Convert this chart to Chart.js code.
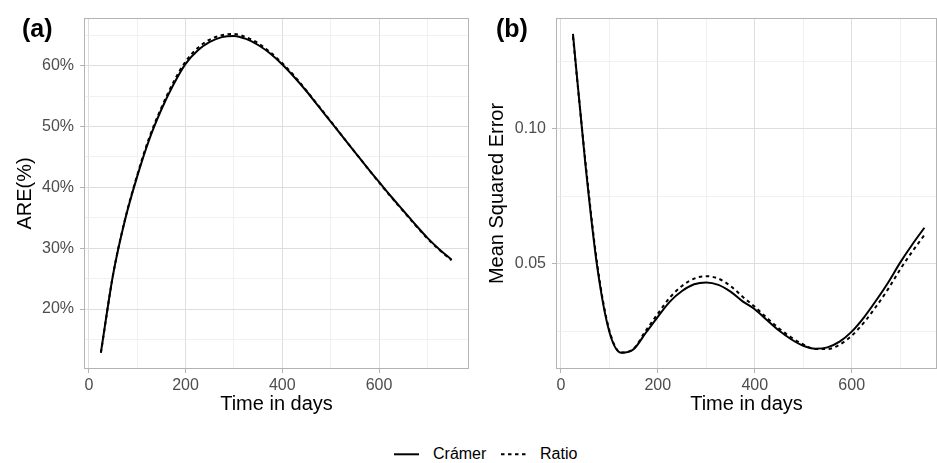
<!DOCTYPE html>
<html>
<head>
<meta charset="utf-8">
<script src="https://cdn.jsdelivr.net/npm/chart.js@4.4.1/dist/chart.umd.min.js"></script>
<style>
  html, body { margin: 0; padding: 0; background: #fff; }
  #fig { position: relative; width: 937px; height: 463px; overflow: hidden; font-family: "Liberation Sans", Arial, sans-serif; }
  #fig canvas { position: absolute; top: 0; }
  .tag { position: absolute; top: 16px; font-size: 25px; line-height: 25px; font-weight: bold; color: #000; }
  .key { position: absolute; top: 444px; }
  .lab { position: absolute; top: 446px; font-size: 16px; line-height: 16px; color: #000; }
</style>
</head>
<body>
<div id="fig">
  <canvas id="cA" width="470" height="420" style="left:0"></canvas>
  <canvas id="cB" width="467" height="420" style="left:470px"></canvas>
  <div class="tag" style="left:22px">(a)</div>
  <div class="tag" style="left:496px">(b)</div>
  <svg class="key" style="left:394px" width="25" height="20"><line x1="0" y1="10.3" x2="25" y2="10.3" stroke="#000" stroke-width="2"/></svg>
  <div class="lab" style="left:433px">Crámer</div>
  <svg class="key" style="left:501px" width="26" height="20"><line x1="0" y1="10.3" x2="26" y2="10.3" stroke="#000" stroke-width="2" stroke-dasharray="3.5 3.5"/></svg>
  <div class="lab" style="left:540px">Ratio</div>
</div>
<script>
// time points (days)
var days = [25, 50, 75, 100, 125, 150, 175, 200, 225, 250, 275, 300, 325, 350, 375,
            400, 425, 450, 475, 500, 525, 550, 575, 600, 625, 650, 675, 700, 725, 750];

// panel (a): ARE in percent
var areCramer = [12.9, 25.6, 34.7, 41.8, 47.9, 52.8, 56.9, 60.3, 62.5, 63.9, 64.7, 64.9, 64.4, 63.4, 62.0,
                 60.2, 58.1, 55.8, 53.3, 50.8, 48.3, 45.8, 43.3, 40.9, 38.5, 36.2, 33.9, 31.7, 29.8, 28.1];
var areRatio  = [12.8, 25.6, 34.8, 42.0, 48.2, 53.1, 57.3, 60.7, 62.9, 64.3, 65.0, 65.2, 64.7, 63.7, 62.2,
                 60.4, 58.3, 55.9, 53.4, 50.9, 48.3, 45.8, 43.3, 40.8, 38.4, 36.1, 33.8, 31.6, 29.7, 28.0];

// panel (b): mean squared error
var mseCramer = [0.135, 0.088, 0.049, 0.025, 0.0172, 0.0185, 0.0245, 0.0305, 0.0361, 0.0400, 0.0425, 0.0432, 0.0423, 0.0398, 0.0362,
                 0.0333, 0.0293, 0.0254, 0.0222, 0.0198, 0.0187, 0.0192, 0.0213, 0.0250, 0.0302, 0.0364, 0.0431, 0.0505, 0.0572, 0.0634];
var mseRatio  = [0.134, 0.089, 0.050, 0.0255, 0.0173, 0.0187, 0.0253, 0.0316, 0.0376, 0.0419, 0.0446, 0.0455, 0.0446, 0.0419, 0.0379,
                 0.0342, 0.0301, 0.0262, 0.0229, 0.0203, 0.0186, 0.0186, 0.0202, 0.0235, 0.0283, 0.0342, 0.0407, 0.0480, 0.0546, 0.0607];

// axis ticks
var xMajor = [0, 200, 400, 600];
var xMinor = [100, 300, 500, 700];
var areMajor = [20, 30, 40, 50, 60];
var areMinor = [15, 25, 35, 45, 55, 65];
var mseMajor = [0.05, 0.10];
var mseMinor = [0.025, 0.075, 0.125];

Chart.defaults.font.family = '"Liberation Sans", Arial, sans-serif';

function pts(ys) {
  return days.map(function (d, i) { return { x: d, y: ys[i] }; });
}

function tickList(major, minor) {
  var t = major.map(function (v) { return { value: v, isMajor: true }; })
    .concat(minor.map(function (v) { return { value: v, isMajor: false }; }));
  t.sort(function (a, b) { return a.value - b.value; });
  return t;
}

function isMaj(c) { return c.tick && c.tick.isMajor; }

var gridOpts = {
  color: function (c) { return isMaj(c) ? '#dedede' : '#ebebeb'; },
  lineWidth: function (c) { return isMaj(c) ? 1 : 0.7; },
  tickColor: function (c) { return isMaj(c) ? '#b3b3b3' : 'rgba(0,0,0,0)'; },
  tickLength: 4,
  tickWidth: 1
};

// grey frame around the panel, like ggplot's theme_light border
var framePlugin = {
  id: 'frame',
  afterDatasetsDraw: function (c) {
    var a = c.chartArea, ctx = c.ctx;
    ctx.save();
    ctx.strokeStyle = '#b3b3b3';
    ctx.lineWidth = 1;
    ctx.strokeRect(a.left + 0.5, a.top + 0.5, a.right - a.left - 1, a.bottom - a.top - 1);
    ctx.restore();
  }
};

function panel(id, cfg) {
  var line = { borderColor: '#000', borderWidth: 2, pointRadius: 0, cubicInterpolationMode: 'monotone' };
  return new Chart(document.getElementById(id), {
    type: 'line',
    data: {
      datasets: [
        Object.assign({ label: 'Crámer', data: pts(cfg.solid), order: 2 }, line),
        Object.assign({ label: 'Ratio', data: pts(cfg.dashed), borderDash: [3.5, 3.5], order: 1 }, line)
      ]
    },
    plugins: [framePlugin],
    options: {
      responsive: false, maintainAspectRatio: false, animation: false,
      layout: { padding: { left: cfg.padLeft, top: 18, right: cfg.padRight, bottom: 0 } },
      plugins: { legend: { display: false }, tooltip: { enabled: false } },
      scales: {
        x: {
          type: 'linear', min: cfg.xMin, max: cfg.xMax,
          afterBuildTicks: function (s) { s.ticks = tickList(xMajor, xMinor); },
          afterFit: function (s) { s.height = 51; },
          grid: gridOpts,
          border: { display: false },
          ticks: {
            autoSkip: false, maxRotation: 0, padding: 3, color: '#4d4d4d', font: { size: 16 },
            callback: function (v) { return xMajor.indexOf(v) >= 0 ? String(v) : ''; }
          },
          title: { display: true, text: 'Time in days', color: '#000', font: { size: 20 }, padding: { top: 5, bottom: 4 } }
        },
        y: {
          type: 'linear', min: cfg.yMin, max: cfg.yMax,
          afterBuildTicks: function (s) { s.ticks = tickList(cfg.yMajor, cfg.yMinor); },
          afterFit: function (s) { s.width = 76; },
          grid: gridOpts,
          border: { display: false },
          ticks: {
            autoSkip: false, padding: 6, color: '#4d4d4d', font: { size: 16 },
            callback: function (v) { return cfg.yMajor.indexOf(v) >= 0 ? cfg.fmt(v) : ''; }
          },
          title: { display: true, text: cfg.yTitle, color: '#000', font: { size: 20 }, padding: { top: 5, bottom: 4 } }
        }
      }
    }
  });
}

panel('cA', {
  solid: areCramer, dashed: areRatio,
  xMin: -10, xMax: 786, yMin: 10.14, yMax: 67.84,
  yMajor: areMajor, yMinor: areMinor,
  fmt: function (v) { return v + '%'; },
  yTitle: 'ARE(%)', padLeft: 8, padRight: 1
});

panel('cB', {
  solid: mseCramer, dashed: mseRatio,
  xMin: -10, xMax: 776, yMin: 0.0112, yMax: 0.1409,
  yMajor: mseMajor, yMinor: mseMinor,
  fmt: function (v) { return v.toFixed(2); },
  yTitle: 'Mean Squared Error', padLeft: 10, padRight: 0
});
</script>
</body>
</html>
